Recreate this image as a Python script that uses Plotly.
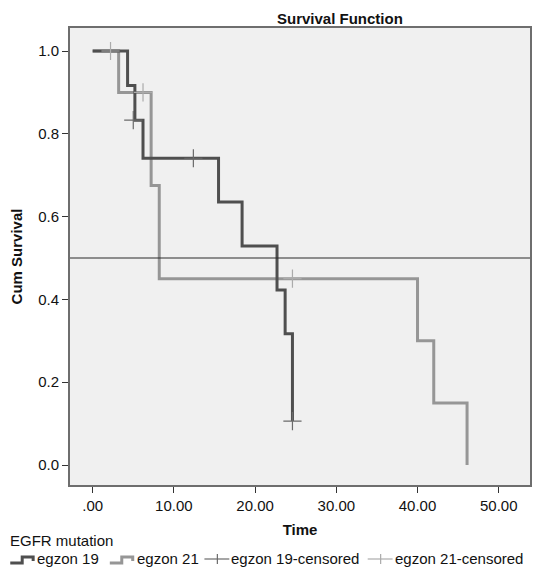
import plotly.graph_objects as go

# egzon 19 (dark)
t19 = [0, 4.3, 5.2, 6.2, 15.5, 18.4, 22.7, 23.7, 24.6]
s19 = [1.0, 0.917, 0.833, 0.741, 0.635, 0.529, 0.423, 0.317, 0.106]
c19_t = [5.0, 12.4, 24.6]
c19_s = [0.833, 0.741, 0.106]

# egzon 21 (light)
t21 = [0, 3.2, 7.2, 8.2, 40.0, 42.0, 46.1]
s21 = [1.0, 0.9, 0.675, 0.45, 0.3, 0.15, 0.0]
c21_t = [2.2, 6.2, 24.6]
c21_s = [1.0, 0.9, 0.45]

xticks = [0, 10, 20, 30, 40, 50]
xticklabels = [".00", "10.00", "20.00", "30.00", "40.00", "50.00"]
yticks = [0.0, 0.2, 0.4, 0.6, 0.8, 1.0]
median_level = 0.5

legend_title = "EGFR mutation"
legend_names = ["egzon 19", "egzon 21", "egzon 19-censored", "egzon 21-censored"]

FONT = "Liberation Sans, Arial, sans-serif"
DARK = "#4f4f4f"
LIGHT = "#969696"
C19 = "#6a6a6a"
C21 = "#ababab"

# layout geometry (pixels)
W, H = 533, 567
ML, MR, MT, MB = 70, 1, 28, 82
PW = W - ML - MR
PH = H - MT - MB


def px(xp):
    return (xp - ML) / PW


def py(yp):
    return (H - MB - yp) / PH


fig = go.Figure()
fig.add_trace(go.Scatter(x=t21, y=s21, mode="lines", line=dict(shape="hv", color=LIGHT, width=3),
                         name=legend_names[1], showlegend=False))
fig.add_trace(go.Scatter(x=t19, y=s19, mode="lines", line=dict(shape="hv", color=DARK, width=3),
                         name=legend_names[0], showlegend=False))
fig.add_trace(go.Scatter(x=c19_t, y=c19_s, mode="markers",
                         marker=dict(symbol="cross-thin", size=13, line=dict(color=C19, width=1.2)),
                         name=legend_names[2], showlegend=False))
fig.add_trace(go.Scatter(x=c21_t, y=c21_s, mode="markers",
                         marker=dict(symbol="cross-thin", size=13, line=dict(color=C21, width=1.2)),
                         name=legend_names[3], showlegend=False))

shapes = [dict(type="line", xref="paper", x0=0, x1=1, yref="y", y0=median_level, y1=median_level,
               line=dict(color="#2a2a2a", width=1))]

annotations = [
    dict(text="<b>Survival Function</b>", xref="paper", yref="paper",
         x=px(341), y=py(18), xanchor="center", yanchor="middle",
         showarrow=False, font=dict(size=15, color="#111111")),
    dict(text=legend_title, xref="paper", yref="paper", x=px(8), y=py(540),
         xanchor="left", yanchor="middle", showarrow=False, font=dict(size=15, color="#111111")),
]

# manual legend row
icon_x = [10, 110, 205, 369]
text_x = [37, 137, 232, 396]
row_y = 558
for i, (ix, tx, name) in enumerate(zip(icon_x, text_x, legend_names)):
    if i < 2:
        col = DARK if i == 0 else LIGHT
        pts = [(ix, 563), (ix + 12, 563), (ix + 12, 557), (ix + 23, 557), (ix + 23, 561)]
        path = "M " + " L ".join(f"{px(a):.5f},{py(b):.5f}" for a, b in pts)
        shapes.append(dict(type="path", xref="paper", yref="paper", path=path,
                           line=dict(color=col, width=3)))
    else:
        col = C19 if i == 2 else C21
        shapes.append(dict(type="line", xref="paper", yref="paper", x0=px(ix), x1=px(ix + 25),
                           y0=py(row_y + 1), y1=py(row_y + 1), line=dict(color=col, width=1.2)))
        shapes.append(dict(type="line", xref="paper", yref="paper", x0=px(ix + 13), x1=px(ix + 13),
                           y0=py(row_y - 4), y1=py(row_y + 6), line=dict(color=col, width=1.2)))
    annotations.append(dict(text=name, xref="paper", yref="paper", x=px(tx), y=py(row_y),
                            xanchor="left", yanchor="middle", xshift=-2, showarrow=False,
                            font=dict(size=15, color="#111111")))

fig.update_layout(
    width=W, height=H,
    margin=dict(l=ML, r=MR, t=MT, b=MB),
    paper_bgcolor="white", plot_bgcolor="#f0f0f0",
    font=dict(family=FONT, size=15, color="#111111"),
    showlegend=False,
    shapes=shapes,
    annotations=annotations,
)
fig.update_xaxes(range=[-2.79, 53.85], tickvals=xticks, ticktext=xticklabels, ticks="outside",
                 ticklen=6, tickcolor="#333", showgrid=False, zeroline=False,
                 showline=True, mirror=True, linecolor="#6e6e6e", linewidth=2,
                 title=dict(text="<b>Time</b>", standoff=11, font=dict(size=15)))
fig.update_yaxes(range=[-0.0483, 1.0556], tickvals=yticks, tickformat=".1f", ticks="outside",
                 ticklen=6, tickcolor="#333", showgrid=False, zeroline=False,
                 showline=True, mirror=True, linecolor="#6e6e6e", linewidth=2,
                 title=dict(text="<b>Cum Survival</b>", standoff=12, font=dict(size=15)))

fig.write_html("out.html")
